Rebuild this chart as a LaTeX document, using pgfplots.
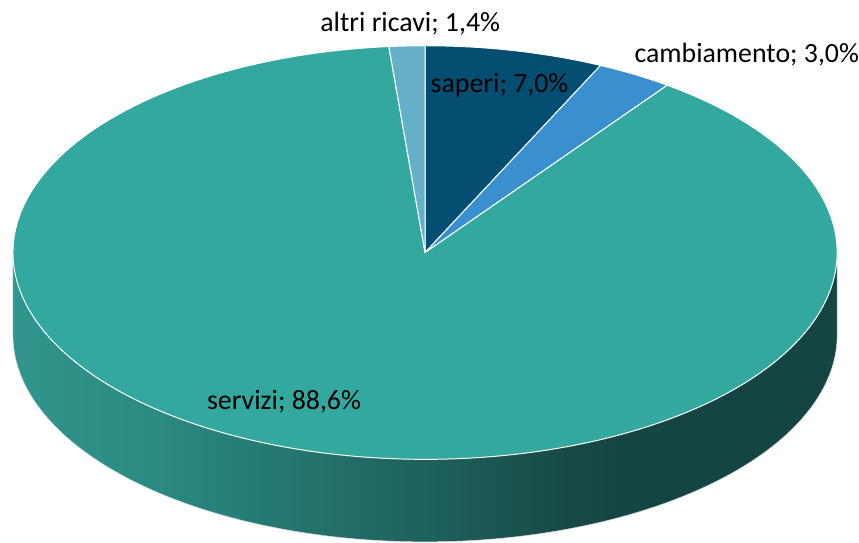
\documentclass[border=0pt]{standalone}
\usepackage{pgfplots}
\pgfplotsset{compat=1.18}
\usepackage{fontspec}
\setmainfont{Carlito}
\definecolor{cSaperi}{RGB}{3,78,113}
\definecolor{cCamb}{RGB}{58,143,207}
\definecolor{cServ}{RGB}{51,168,158}
\definecolor{cAltri}{RGB}{101,175,201}
\pgfdeclarehorizontalshading{sideshade}{100bp}{%
 rgb(0bp)=(0.188,0.588,0.553);
 rgb(25bp)=(0.188,0.588,0.553);
 rgb(33.6bp)=(0.169,0.541,0.510);
 rgb(41.7bp)=(0.141,0.463,0.439);
 rgb(50.8bp)=(0.118,0.373,0.353);
 rgb(58.9bp)=(0.090,0.286,0.271);
 rgb(62bp)=(0.082,0.271,0.259);
 rgb(75bp)=(0.082,0.271,0.259);
 rgb(100bp)=(0.082,0.271,0.259)}
% data (percent)
\def\vSaperi{7.0}
\def\vCamb{3.0}
\def\vServ{88.6}
\def\vAltri{1.4}
% geometry (pixels)
\def\cx{427.5}
\def\cy{254}
\def\rx{414.5}
\def\ry{208}
\def\dep{83}
\pgfmathsetmacro{\aA}{90}
\pgfmathsetmacro{\aB}{\aA-3.6*\vSaperi}
\pgfmathsetmacro{\aC}{\aB-3.6*\vCamb}
\pgfmathsetmacro{\aD}{\aC-3.6*\vServ}
\pgfmathsetmacro{\aE}{\aD-3.6*\vAltri}
\begin{document}
\begin{tikzpicture}
\begin{axis}[
  scale only axis, width=859bp, height=545bp,
  xmin=0, xmax=859, ymin=0, ymax=545, y dir=reverse,
  hide axis, clip=false,
  trig format plots=deg,
]
\path (axis cs:0,0) -- (axis cs:859,545);
% side
\addplot[shade, shading=sideshade, draw=black!15, line width=0.5pt, domain=180:360, samples=120, variable=\t]
  ({\cx+\rx*cos(\t)}, {\cy+\dep-\ry*sin(\t)}) -- (axis cs:842,254) -- (axis cs:13,254) -- cycle;
% top slices
\addplot[fill=cSaperi, draw=white, line width=1pt, domain=\aB:\aA, samples=30, variable=\t]
  ({\cx+\rx*cos(\t)}, {\cy-\ry*sin(\t)}) -- (axis cs:\cx,\cy) -- cycle;
\addplot[fill=cCamb, draw=white, line width=1pt, domain=\aC:\aB, samples=20, variable=\t]
  ({\cx+\rx*cos(\t)}, {\cy-\ry*sin(\t)}) -- (axis cs:\cx,\cy) -- cycle;
\addplot[fill=cServ, draw=white, line width=1pt, domain=\aD:\aC, samples=200, variable=\t]
  ({\cx+\rx*cos(\t)}, {\cy-\ry*sin(\t)}) -- (axis cs:\cx,\cy) -- cycle;
\addplot[fill=cAltri, draw=white, line width=1pt, domain=\aE:\aD, samples=10, variable=\t]
  ({\cx+\rx*cos(\t)}, {\cy-\ry*sin(\t)}) -- (axis cs:\cx,\cy) -- cycle;
% labels
\tikzset{lbl/.style={anchor=base west, inner sep=0pt, font=\fontsize{28bp}{32bp}\selectfont, text=black}}
\node[lbl] at (axis cs:322,32) {altri ricavi; 1,4\%};
\node[lbl] at (axis cs:433,93) {saperi; 7,0\%};
\node[lbl] at (axis cs:638,63) {cambiamento; 3,0\%};
\node[lbl] at (axis cs:208,412) {servizi; 88,6\%};
\end{axis}
\end{tikzpicture}
\end{document}
